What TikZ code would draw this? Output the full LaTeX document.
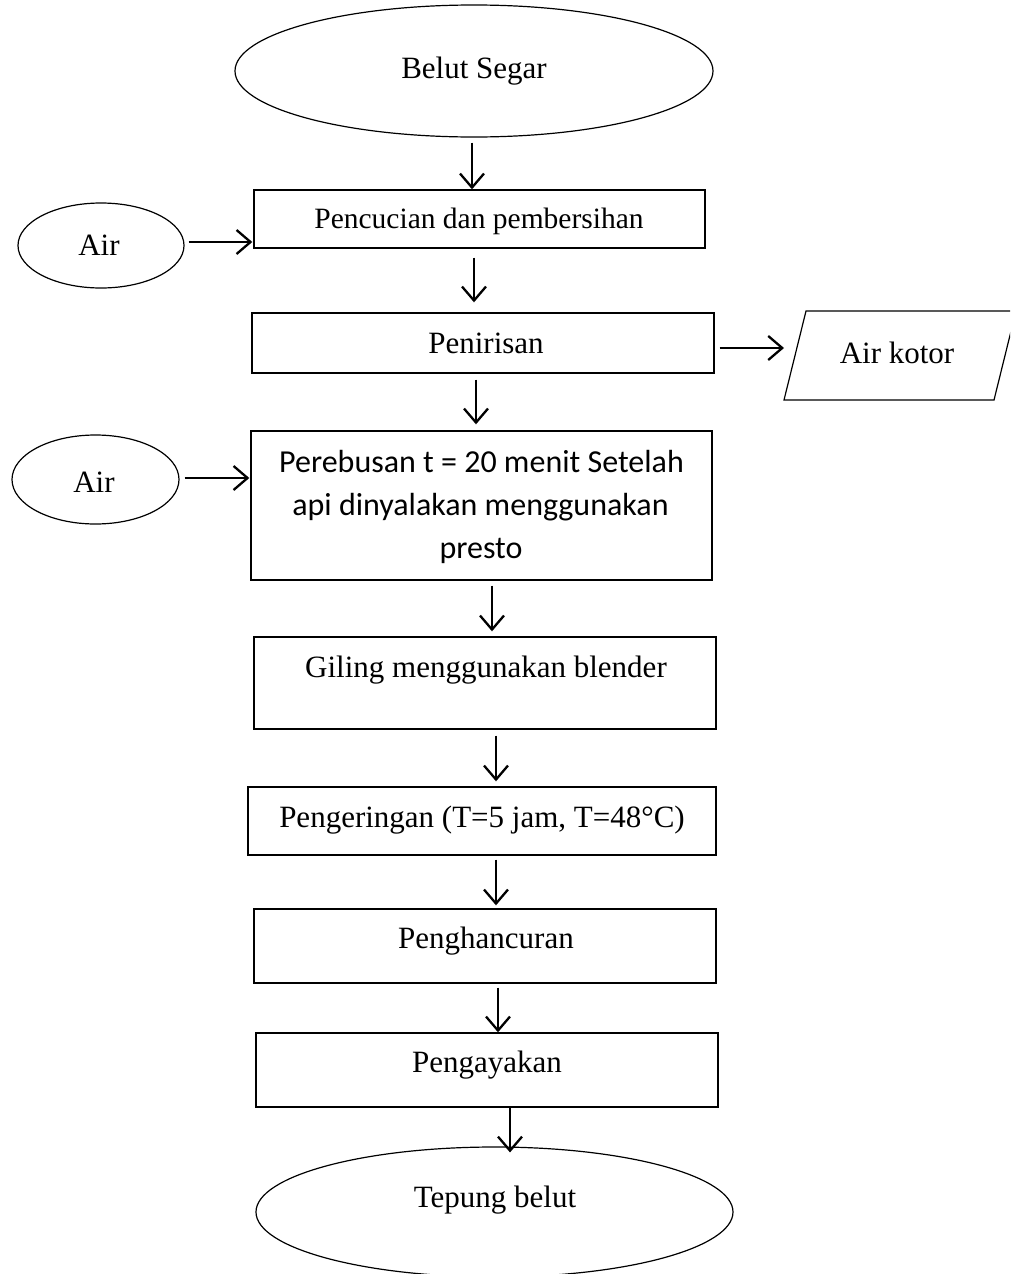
\documentclass[tikz,border=0pt]{standalone}
\usepackage{fontspec}
\setmainfont{Liberation Serif}
\newfontfamily\calib{Carlito}
\usetikzlibrary{arrows.meta,shapes.geometric}
\begin{document}
\begin{tikzpicture}[x=1pt,y=-1pt,
  boxst/.style={draw,line width=1.4pt,rectangle,inner sep=0pt},
  ellst/.style={draw,line width=1.2pt,ellipse,inner sep=0pt},
  txt/.style={inner sep=0pt,anchor=base,font=\fontsize{31}{37}\selectfont},
  stxt/.style={inner sep=0pt,anchor=base,font=\calib\fontsize{32}{43}\selectfont},
  arr/.style={line width=2.3pt,-{Straight Barb[length=14pt,width=24pt,line width=2.3pt]}}]
\useasboundingbox (0,0) rectangle (1010,1274);
\clip (0,0) rectangle (1010,1274);
% shapes
\node[ellst,minimum width=478pt,minimum height=132pt] (e0) at (474,71) {};
\node[boxst,minimum width=451pt,minimum height=58pt] (b1) at (479.5,219) {};
\node[ellst,minimum width=166pt,minimum height=85pt] (air1) at (101,245.5) {};
\node[boxst,minimum width=462pt,minimum height=60pt] (b2) at (483,343) {};
\draw[line width=1.2pt] (806,311) -- (1016,311) -- (994,400) -- (784,400) -- cycle;
\coordinate (pk) at (784,348);
\node[boxst,minimum width=461pt,minimum height=149pt] (b3) at (481.5,505.5) {};
\node[ellst,minimum width=167pt,minimum height=89pt] (air2) at (95.5,479.5) {};
\node[boxst,minimum width=462pt,minimum height=92pt] (b4) at (485,683) {};
\node[boxst,minimum width=468pt,minimum height=68pt] (b5) at (482,821) {};
\node[boxst,minimum width=462pt,minimum height=74pt] (b6) at (485,946) {};
\node[boxst,minimum width=462pt,minimum height=74pt] (b7) at (487,1070) {};
\node[ellst,minimum width=477pt,minimum height=130pt] (e1) at (494.5,1212) {};
% texts
\node[txt] (t0) at (474,78) {Belut Segar};
\node[txt,font=\fontsize{29.5}{35}\selectfont] (t1) at (479,228) {Pencucian dan pembersihan};
\node[txt] (ta1) at (99,255) {Air};
\node[txt] (t2) at (486,353) {Penirisan};
\node[txt] (tk) at (897,363) {Air kotor};
\node[stxt] (t3a) at (481.5,472) {Perebusan t = 20 menit Setelah};
\node[stxt] (t3b) at (480.5,515) {api dinyalakan menggunakan};
\node[stxt] (t3c) at (481,558) {presto};
\node[txt] (ta2) at (94,492) {Air};
\node[txt] (t4) at (486,677) {Giling menggunakan blender};
\node[txt] (t5) at (482,827) {Pengeringan (T=5 jam, T=48°C)};
\node[txt] (t6) at (486,948) {Penghancuran};
\node[txt] (t7) at (487,1072) {Pengayakan};
\node[txt] (t8) at (495,1207) {Tepung belut};
% vertical arrows
\draw[arr] ([xshift=-2pt,yshift=-5pt]e0.south) coordinate (v0) -- (v0 |- b1.north);
\draw[arr,shorten >=10pt] ([xshift=-5.5pt,yshift=-9pt]b1.south) coordinate (v1) -- (v1 |- b2.north);
\draw[arr,shorten >=6pt] ([xshift=-7pt,yshift=-6pt]b2.south) coordinate (v2) -- (v2 |- b3.north);
\draw[arr,shorten >=5pt] ([xshift=10.5pt,yshift=-5pt]b3.south) coordinate (v3) -- (v3 |- b4.north);
\draw[arr,shorten >=5pt] ([xshift=11pt,yshift=-6pt]b4.south) coordinate (v4) -- (v4 |- b5.north);
\draw[arr,shorten >=3pt] ([xshift=14pt,yshift=-4pt]b5.south) coordinate (v5) -- (v5 |- b6.north);
\draw[arr] ([xshift=13pt,yshift=-4pt]b6.south) coordinate (v6) -- (v6 |- b7.north);
\draw[arr,shorten >=-6pt] ([xshift=23pt]b7.south) coordinate (v7) -- (v7 |- e1.north);
% horizontal arrows
\draw[arr,shorten >=1pt] ([xshift=4pt,yshift=3.5pt]air1.east) coordinate (h1) -- (h1 -| b1.west);
\draw[arr] ([xshift=5pt,yshift=-5pt]b2.east) coordinate (h2) -- (h2 -| pk);
\draw[arr,shorten >=1pt] ([xshift=5pt,yshift=1.5pt]air2.east) coordinate (h3) -- (h3 -| b3.west);
\end{tikzpicture}
\end{document}
